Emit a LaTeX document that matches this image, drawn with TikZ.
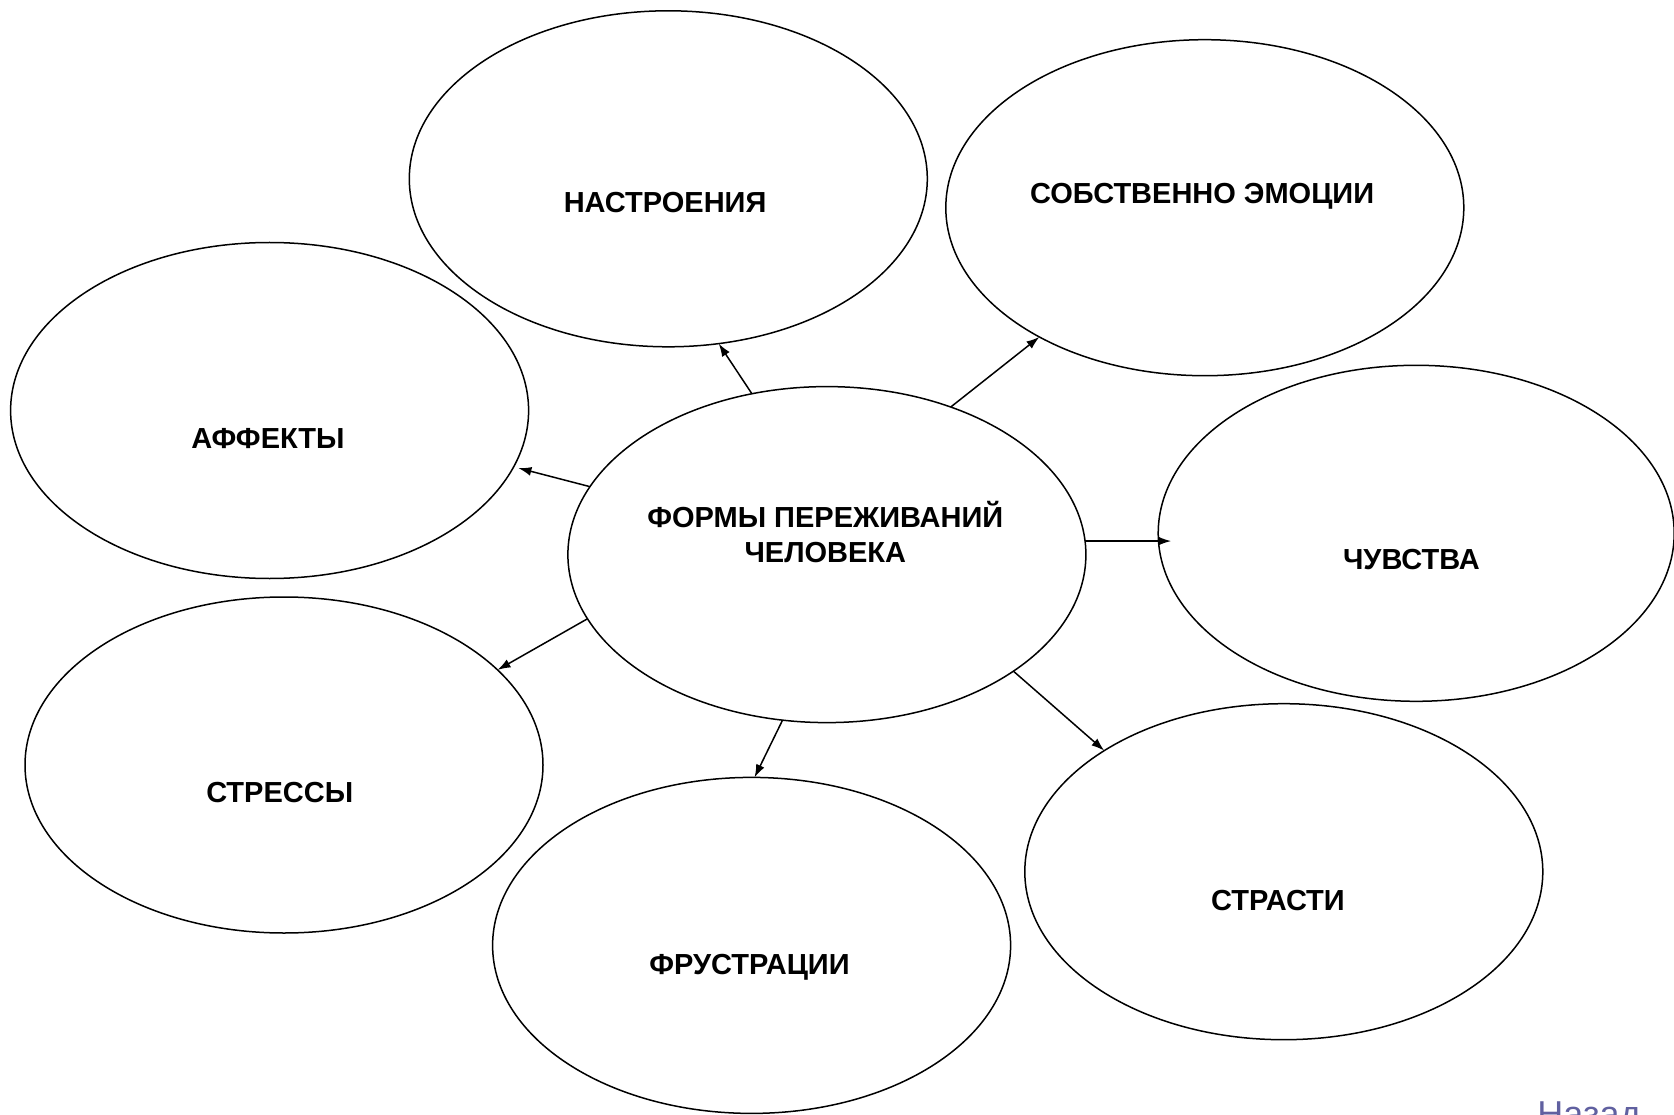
\documentclass[tikz,border=0pt]{standalone}
\usepackage{fontspec}
\setmainfont{Liberation Sans}
\usetikzlibrary{shapes.geometric,arrows.meta}
\definecolor{navblue}{RGB}{96,96,160}
\tikzset{
  oval/.style={draw=black, line width=1.5pt, ellipse, inner sep=0pt, outer sep=0pt,
    minimum width=518pt, minimum height=336pt},
  lbl/.style={font=\fontsize{29}{35}\selectfont\bfseries, align=center, inner sep=0pt},
  link/.style={line width=1.5pt, -{Latex[length=13pt,width=9pt]}}
}
\begin{document}
\begin{tikzpicture}[x=1pt,y=-1pt]
\useasboundingbox (0,0) rectangle (1674,1115);
\node[oval] (nas) at (668.3,178.8) {};
\node[oval] (sob) at (1204.8,207.7) {};
\node[oval] (aff) at (269.6,410.5) {};
\node[oval] (cen) at (826.9,554.6) {};
\node[oval, minimum width=516pt] (chu) at (1416.2,533.3) {};
\node[oval] (str) at (284,765) {};
\node[oval] (fru) at (751.6,945.4) {};
\node[oval] (sta) at (1283.8,871.7) {};

\node[lbl] (tnas) at (665.1,202.8) {НАСТРОЕНИЯ};
\node[lbl] (tsob) at (1202.1,196.4) {СОБСТВЕННО ЭМОЦИИ};
\node[lbl] (taff) at (268,438.8) {АФФЕКТЫ};
\node[lbl] (tcen) at (825.3,532.5) {ФОРМЫ ПЕРЕЖИВАНИЙ\\ЧЕЛОВЕКА};
\node[lbl] (tchu) at (1411.4,559.4) {ЧУВСТВА};
\node[lbl] (tstr) at (279.7,792.2) {СТРЕССЫ};
\node[lbl] (tfru) at (749.5,967.2) {ФРУСТРАЦИИ};
\node[lbl] (tsta) at (1277.9,901) {СТРАСТИ};

\draw[link] (cen.115.3) -- (nas.287.4);
\draw[link] (cen.50.9) -- (sob.218.5);
\draw[link, shorten >=5pt] (cen.164.7) -- (aff.347.7);
\draw[link, shorten >=-13pt] (cen.3.4) -- (cen.3.4 -| chu.west);
\draw[link] (cen.195.6) -- (str.24.4);
\draw[link] (cen.255.5) -- (fru.89.3);
\draw[link] (cen.328) -- (sta.146.3);

\node[font=\fontsize{36}{42}\selectfont, text=navblue, anchor=base, inner sep=0pt] (back) at (1589,1126) {Назад};
\end{tikzpicture}
\end{document}
